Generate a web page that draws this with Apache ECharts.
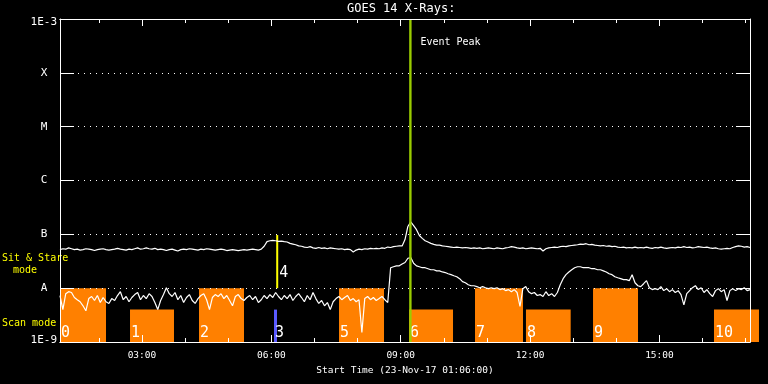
<!DOCTYPE html>
<html><head><meta charset="utf-8">
<script src="https://cdn.jsdelivr.net/npm/echarts@6/dist/echarts.min.js"></script>
<style>html,body{margin:0;padding:0;background:#000}#c{width:768px;height:384px}</style>
</head><body><div id="c"></div>
<script>
// Time in minutes since 00:00 UT on 23-Nov-17; flux in units of 1E-9 W/m^2
const START_MIN = 66;   // 01:06
const END_MIN = 1026;   // 17:06
const STEP_MIN = 4;

// GOES 14 long channel (1-8 A)
const longFlux = [
52,54,53,56,54,52,53,51,52,54,
53,52,50,52,53,54,52,51,52,53,
55,53,52,51,53,52,54,56,53,54,
56,54,53,55,52,53,52,50,52,53,
51,49,52,53,52,54,53,52,51,53,
52,54,53,52,51,52,53,52,50,51,
52,51,50,51,52,51,52,53,52,51,
53,60,73,76,77,76,74,75,73,72,
68,66,64,61,60,58,57,59,56,55,
57,55,56,54,56,55,54,53,54,52,
53,52,47,51,53,52,54,53,55,54,
55,54,56,55,58,57,59,60,61,61,
80,140,170,145,122,95,84,76,72,68,
65,63,63,61,60,59,58,57,58,57,
56,57,56,55,56,55,56,54,55,56,
55,54,56,55,54,56,57,59,58,56,
55,56,54,55,56,55,54,55,49,54,
56,57,58,57,59,60,59,61,62,63,
64,66,65,67,64,65,63,62,61,62,
60,61,59,60,58,57,58,56,57,56,
58,56,57,56,58,56,55,57,56,58,
56,55,56,57,56,58,57,59,57,58,
56,57,59,58,57,58,56,55,56,54,
53,54,55,54,57,59,61,60,58,59,
57
];

// GOES 14 short channel (0.5-4 A)
const shortFlux = [
7.3,4.0,7.9,8.6,8.3,6.7,6.1,5.6,4.7,3.8,
6.4,7.0,5.9,7.3,5.4,6.7,5.6,5.2,6.4,5.9,
7.3,8.6,6.1,7.0,5.6,6.7,7.6,8.3,6.1,7.3,
6.4,7.9,7.0,5.4,4.0,5.9,7.6,10.2,7.9,7.0,
8.3,6.1,7.3,5.4,6.7,7.6,5.9,5.2,6.4,7.3,
7.9,6.1,4.0,6.7,7.6,7.0,7.9,6.4,7.3,5.9,
4.7,7.0,7.6,6.4,5.9,6.7,7.3,6.1,7.0,5.4,
6.1,7.3,6.4,7.6,6.7,8.3,7.0,6.1,7.3,6.4,
7.6,5.9,7.0,7.9,6.7,5.6,7.3,6.1,8.3,6.4,
5.2,5.9,4.7,5.4,4.0,5.6,6.4,7.0,6.1,6.7,
7.3,5.9,6.4,5.6,6.1,1.5,6.4,7.0,6.1,6.7,
5.9,6.4,7.0,6.1,5.4,24,25,26,26,28,
30,36,37,29,26,25,24,24,23,22,
22,21,21,20,19.5,18.5,17.8,17,16.3,15,
13.2,12.6,11.6,11.1,11.1,10.7,10.2,10.7,10.2,9.8,
10.2,9.8,10.2,9.4,9.8,9.0,9.4,8.6,9.4,8.3,
4.6,9.8,10.7,8.6,7.9,8.3,7.3,7.6,7.0,8.6,
7.3,7.9,7.0,8.3,11.6,15,17.8,20,22,24,
25,25,24,24,24,23,23,22,22,21,
20,18.5,17.8,16.3,15.6,15,14.4,14.4,13.8,17.8,
12.6,11.1,10.7,12.1,13.8,10.2,9.4,9.8,9.4,10.7,
9.0,9.8,8.6,9.4,8.3,9.0,7.6,4.9,7.9,9.0,
10.2,11.1,9.4,10.2,8.3,9.4,7.9,7.0,9.0,9.8,
8.6,9.4,5.9,9.0,9.8,9.0,9.8,9.4,10.2,9.0,
9.4
];

// Y tick labels, one per decade from 1E-9 to 1E-3
const yTickLabels = ['1E-9', 'A', 'B', 'C', 'M', 'X', '1E-3'];
// X ticks (minutes)
const xMajorMinutes = [180, 360, 540, 720, 900];
const xMinorMinutes = [120,180,240,300,360,420,480,540,600,660,720,780,840,900,960,1020];

// Observation blocks (minutes, flux units)
const obsStart  = [66, 163.4, 259.4, 363.7, 366.8, 454.2, 551.6, 643.4, 714.3, 807.6, 975.9];
const obsEnd    = [130, 224.6, 322, 367.9, 369.6, 516.8, 612.8, 710.2, 776.5, 870.2, 1038.5];
const obsTop    = [10, 4, 10, 4, 97, 10, 4, 10, 4, 10, 4];
const obsBottom = [1, 1, 1, 1, 10, 1, 1, 1, 1, 1, 1];
const obsKind   = ['scan','scan','scan','other','stare','scan','scan','scan','scan','scan','scan'];
const obsLabels = ['0','1','2','3','4','5','6','7','8','9','10'];

const eventPeakMin = 553.5;

const MONO = '"DejaVu Sans Mono", monospace';
const kindColor = { scan: '#ff8000', other: '#5a5aff', stare: '#ffff00' };

const longData = longFlux.map((v, i) => [START_MIN + i * STEP_MIN, v]);
const shortData = shortFlux.map((v, i) => [START_MIN + i * STEP_MIN, v]);
const obsData = obsStart.map((s, i) => [s, obsEnd[i], obsTop[i], obsBottom[i]]);

function hhmm(m) {
  m = Math.round(m);
  return String(Math.floor(m / 60)).padStart(2, '0') + ':' + String(m % 60).padStart(2, '0');
}

const W = '#ffffff';
function xAx(pos, ticks, len, withLabel) {
  return {
    type: 'value', position: pos, min: START_MIN, max: END_MIN, z: 5,
    axisLine: { show: true, lineStyle: { color: W, width: 1 } },
    axisTick: { show: true, inside: true, length: len, customValues: ticks, lineStyle: { color: W } },
    axisLabel: withLabel ? {
      show: true, customValues: xMajorMinutes, formatter: hhmm, margin: 9,
      color: W, fontFamily: MONO, fontSize: 9.5
    } : { show: false },
    splitLine: { show: false },
    name: withLabel ? 'Start Time (23-Nov-17 01:06:00)' : '',
    nameLocation: 'middle', nameGap: 21,
    nameTextStyle: { color: W, fontFamily: MONO, fontSize: 9.5 }
  };
}
function yAx(pos, withLabel) {
  return {
    type: 'log', logBase: 10, position: pos, min: 1, max: 1e6, interval: 1, splitNumber: 6, z: 5,
    axisLine: { show: true, lineStyle: { color: W, width: 1 } },
    axisTick: { show: true, inside: true, length: 14, lineStyle: { color: W } },
    axisLabel: withLabel ? {
      show: true, margin: 3, showMinLabel: true, showMaxLabel: true,
      formatter: v => {
        const k = Math.round(Math.log10(v));
        const t = yTickLabels[k];
        if (k === yTickLabels.length - 1) return '{t|' + t + '}';
        if (k === 0) return '{b|' + t + '}';
        return '{l|' + t + '}';
      },
      rich: {
        t: { padding: [7, 0, 0, 0], color: W, fontFamily: MONO, fontSize: 11 },
        b: { padding: [0, 0, 4, 0], color: W, fontFamily: MONO, fontSize: 11 },
        l: { width: 26, align: 'center', color: W, fontFamily: MONO, fontSize: 11 }
      }
    } : { show: false },
    splitLine: withLabel ? { show: true, lineStyle: { color: W, type: [1, 5], width: 1 } } : { show: false }
  };
}

const chart = echarts.init(document.getElementById('c'), null, { renderer: 'canvas' });
chart.setOption({
  backgroundColor: '#000000',
  animation: false,
  title: {
    text: 'GOES 14 X-Rays:', left: 347, top: 3, padding: 0,
    textStyle: { color: W, fontFamily: MONO, fontSize: 12, fontWeight: 'normal' }
  },
  grid: { left: 60, right: 18, top: 19, bottom: 42 },
  xAxis: [
    xAx('bottom', xMajorMinutes, 7, true),
    xAx('bottom', xMinorMinutes, 4, false),
    xAx('top', xMajorMinutes, 7, false),
    xAx('top', xMinorMinutes, 4, false)
  ],
  yAxis: [yAx('left', true), yAx('right', false)],
  graphic: [
    { type: 'text', left: 2, top: 253, style: { text: 'Sit & Stare', fill: '#ffff00', font: '10px ' + MONO } },
    { type: 'text', left: 13, top: 265, style: { text: 'mode', fill: '#ffff00', font: '10px ' + MONO } },
    { type: 'text', left: 2, top: 318, style: { text: 'Scan mode', fill: '#ffff00', font: '10px ' + MONO } }
  ],
  series: [
    {
      type: 'custom', z: 1, clip: false, xAxisIndex: 0, yAxisIndex: 0,
      encode: { x: [0, 1], y: [2, 3] },
      data: obsData,
      renderItem: (params, api) => {
        const i = params.dataIndex;
        const a = api.coord([api.value(0), api.value(2)]);
        const b = api.coord([api.value(1), api.value(3)]);
        const kind = obsKind[i];
        const isStare = kind === 'stare';
        return {
          type: 'group',
          children: [
            { type: 'rect', shape: { x: a[0], y: a[1], width: b[0] - a[0], height: b[1] - a[1] },
              style: { fill: kindColor[kind] } },
            { type: 'text', x: isStare ? b[0] + 1 : a[0] + 1, y: isStare ? b[1] - 8 : b[1] - 1,
              style: { text: obsLabels[i], fill: W, font: '15px ' + MONO, verticalAlign: 'bottom', align: 'left' } }
          ]
        };
      }
    },
    {
      type: 'line', z: 3, data: longData, showSymbol: false, symbol: 'none',
      lineStyle: { color: W, width: 1.2 }, xAxisIndex: 0, yAxisIndex: 0
    },
    {
      type: 'line', z: 3, data: shortData, showSymbol: false, symbol: 'none',
      lineStyle: { color: W, width: 1.2 }, xAxisIndex: 0, yAxisIndex: 0
    },
    {
      type: 'custom', z: 4, clip: false, xAxisIndex: 0, yAxisIndex: 0,
      data: [[eventPeakMin]],
      renderItem: (params, api) => {
        const t = api.value(0);
        const p0 = api.coord([t, 1e6]);
        const p1 = api.coord([t, 1]);
        return {
          type: 'group',
          children: [
            { type: 'line', shape: { x1: p0[0], y1: p0[1], x2: p1[0], y2: p1[1] },
              style: { stroke: '#99cc00', lineWidth: 2.4 } },
            { type: 'text', x: p0[0] + 10, y: p0[1] + 23,
              style: { text: 'Event Peak', fill: W, font: '10px ' + MONO, verticalAlign: 'middle', align: 'left' } }
          ]
        };
      }
    }
  ]
});
</script>
</body></html>
